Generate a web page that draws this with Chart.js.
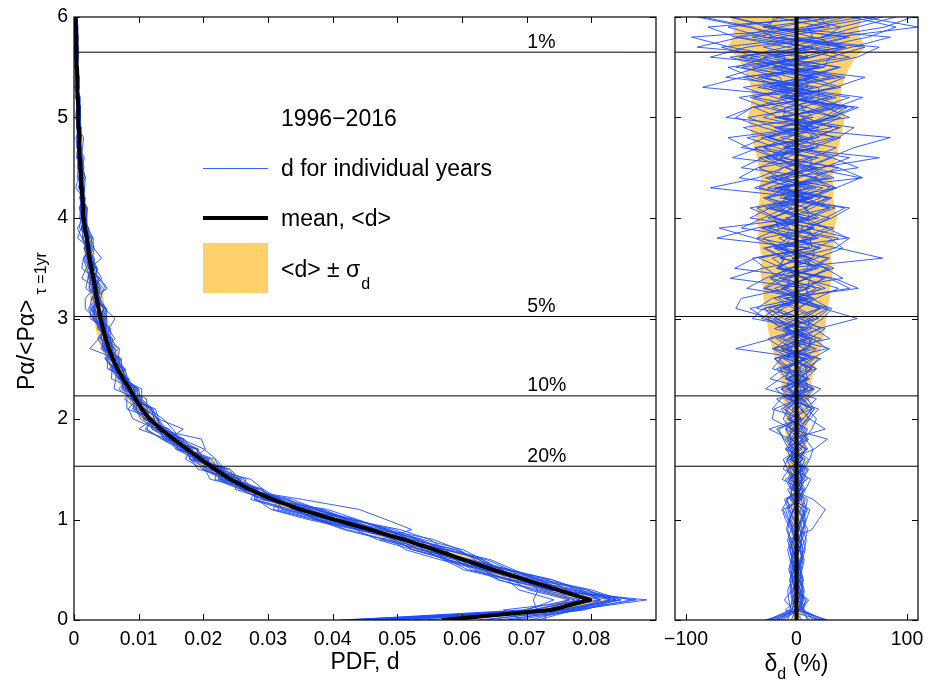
<!DOCTYPE html>
<html><head><meta charset="utf-8">
<script src="https://cdn.jsdelivr.net/npm/chart.js@4.4.1/dist/chart.umd.min.js"></script>
<style>
html,body{margin:0;padding:0;background:#fff;}
#wrap{position:relative;width:934px;height:683px;overflow:hidden;background:#fff;}
canvas{position:absolute;top:0;}
#c1{left:0;}
#c2{left:640px;}
</style></head><body>
<div id="wrap">
<canvas id="c1" width="668" height="683"></canvas>
<canvas id="c2" width="294" height="683"></canvas>
</div>
<script>
// ---------------- data ----------------
const yBins = [0,0.1,0.2,0.3,0.4,0.5,0.6,0.7,0.8,0.9,1.0,
  1.1,1.2,1.3,1.4,1.5,1.6,1.7,1.8,1.9,2.0,
  2.1,2.2,2.3,2.4,2.5,2.6,2.7,2.8,2.9,3.0,
  3.1,3.2,3.3,3.4,3.5,3.6,3.7,3.8,3.9,4.0,
  4.1,4.2,4.3,4.4,4.5,4.6,4.7,4.8,4.9,5.0,
  5.1,5.2,5.3,5.4,5.5,5.6,5.7,5.8,5.9,6.0];

const meanPDF = [0.0569,0.0738,0.0798,0.0748,0.0698,0.0648,0.0602,0.0557,0.0510,0.0458,0.0402,
  0.0350,0.0307,0.0271,0.0242,0.0218,0.0196,0.0175,0.0154,0.0134,0.0117,
  0.0105,0.0095,0.0086,0.0076,0.0067,0.0060,0.0054,0.0049,0.0045,0.0041,
  0.0038,0.0035,0.0033,0.0030,0.0027,0.0024,0.0022,0.0020,0.0017,0.0015,
  0.0014,0.0013,0.0012,0.0011,0.00100,0.00092,0.00086,0.00080,0.00075,0.00070,
  0.00065,0.00060,0.00055,0.00050,0.00046,0.00042,0.00038,0.00034,0.00030,0.00026];

// sigma_d relative to <d>, in percent
const sigmaPct = [4,4,5,4,4,4,4,5,5,5,5,
  5,6,6,7,8,8,8,9,10,10,
  11,12,13,14,16,19,22,24,26,27,
  28,30,30,32,33,31,33,35,34,37,
  35,33,34,32,34,36,38,40,42,44,
  42,40,41,44,48,54,62,58,56,60];

const years = ['1996','1997','1998','1999','2000','2001','2002','2003','2004','2005','2006',
  '2007','2008','2009','2010','2011','2012','2013','2014','2015','2016'];

// delta_d (%) for individual years
const delta1996 = [-24,-4,-2,1,3,4,2,-1,-5,-8,-6,
  -3,2,6,-4,7,12,15,8,-6,-4,
  -10,6,-14,4,12,20,-8,18,5,-12,
  -25,5,-30,-15,18,-4,35,48,10,30,
  -8,-30,12,-52,-35,-10,15,40,-20,35,
  10,-20,-48,15,-55,-25,20,65,90,50];
const delta1997 = [18,3,5,6,2,-2,-4,-6,-3,1,4,
  8,10,-3,-2,-8,-12,2,-4,3,10,
  16,-6,4,-8,-18,8,-20,-8,10,24,
  32,-4,4,-14,-28,-40,12,5,28,-10,
  30,8,-15,20,-50,-30,5,38,52,-12,
  -10,-42,20,-35,10,55,75,-20,-40,-85];
const delta1998 = [-12,1,-3,-5,-6,-2,3,7,9,5,2,
  -4,-9,3,-6,4,11,-2,10,2,-6,
  -14,4,-28,-15,0,14,30,-6,22,4,
  -18,10,-45,-28,-5,18,42,30,-16,-20,
  -42,8,-38,-12,20,75,-12,5,-30,-55,
  -40,-5,35,62,-15,-10,-60,-95,30,20];
const delta1999 = [26,5,11,-2,-4,-7,-5,0,4,6,8,
  5,-4,-5,-10,2,-8,-2,7,14,18,
  10,2,-8,10,-10,6,18,-12,-6,-22,
  -55,-50,-8,-6,14,30,-10,-6,-30,18,
  -25,8,36,58,12,14,-18,-45,15,5,
  35,60,-10,-15,-50,10,-30,25,80,105];
const delta2000 = [-20,-2,2,4,6,3,0,-4,-6,-9,-7,
  -2,4,8,13,-3,2,-7,-12,-16,4,
  0,10,22,-4,18,4,-12,-26,6,-20,
  2,18,38,6,34,12,-14,-38,-70,5,
  -15,12,30,15,-10,20,-50,-28,4,30,
  52,-10,-8,-40,-62,10,5,45,-30,40];
const delta2001 = [10,6,8,4,-1,-3,-6,-8,-4,2,5,
  9,6,-1,-7,5,-6,3,11,-4,12,
  4,-8,-19,8,2,14,-10,12,-10,-28,
  -42,4,-12,10,28,-15,22,-4,-24,20,
  6,28,-20,30,8,-20,-44,-62,10,-10,
  22,48,-15,40,0,-35,-68,15,10,58];
const delta2002 = [-26,-6,-4,0,3,5,7,4,-1,-5,-10,
  -13,-8,5,4,10,-5,-3,-11,-18,3,
  -4,8,16,-8,14,-4,-22,10,-20,2,
  20,-10,26,8,-12,-34,12,-36,-14,10,
  35,-12,36,14,-8,-28,20,12,40,-20,
  45,18,-12,-48,20,-50,-10,35,110,60];
const delta2003 = [22,-10,0,-3,-1,2,5,8,6,3,-2,
  -6,-9,4,2,8,-5,10,4,-4,-22,
  -20,2,-2,8,-6,-20,8,-15,6,18,
  30,14,-8,-24,10,12,-18,46,28,6,
  -18,10,-78,-35,-12,14,36,-15,32,8,
  -28,-52,10,8,40,-20,42,0,-45,-90];
const delta2004 = [-8,-5,-7,-8,-4,1,4,6,3,-1,-5,
  -8,2,3,8,-4,6,-2,-8,-3,6,
  14,-6,16,4,-10,-20,10,4,20,55,
  24,6,-14,10,-18,2,20,-6,-32,8,
  -28,-6,18,-10,56,32,8,-24,-48,15,
  4,36,-20,30,-12,-52,10,-40,20,72];
const delta2005 = [15,7,5,2,-3,-5,-2,3,8,10,6,
  1,-5,4,-13,-7,2,9,-6,-5,-12,
  -8,4,15,-10,-6,-16,12,12,26,-10,
  22,4,-20,10,-56,-38,14,12,34,-20,
  -4,-26,15,-20,6,30,52,85,-15,12,
  -22,10,-85,-50,25,30,62,-30,-18,-60];
const delta2006 = [-16,4,6,3,1,-2,-5,-3,2,6,9,
  12,-4,2,-4,-9,6,-10,-3,5,12,
  20,-8,14,0,-12,10,-55,-22,10,12,
  28,-12,56,34,-18,-10,-28,15,10,32,
  48,-10,4,-22,18,-58,-34,12,20,-15,
  30,0,-30,20,-34,12,50,85,-25,-20];
const delta2007 = [28,-1,2,5,6,4,1,-3,-7,14,20,
  26,15,-5,10,4,-3,-10,6,-10,-2,
  8,18,-8,-4,-15,12,6,22,-10,20,
  2,-16,10,-60,-30,15,16,38,-12,2,
  -22,15,-26,2,24,48,-10,10,-18,-44,
  10,-38,-4,34,-20,36,-8,-55,-80,25];
const delta2008 = [-28,2,4,1,-3,-6,-4,-1,2,5,8,
  6,-6,-4,-8,5,3,8,-5,26,12,
  4,-6,10,-24,-12,6,-10,30,16,-4,
  -20,14,8,26,-10,78,38,-10,-6,-26,
  10,-28,-8,14,38,-15,0,-26,20,-64,
  -40,20,20,44,-15,48,10,-30,-62,15];
const delta2009 = [5,-3,-11,-4,0,4,6,3,-2,-4,-8,
  -12,3,-1,6,11,-5,2,-4,-10,6,
  -22,-14,10,8,18,-8,-4,-18,10,-40,
  -30,12,8,24,-16,-2,-20,14,-26,-6,
  14,32,-12,34,12,-10,-30,20,8,28,
  46,-10,40,10,-24,-60,15,-55,-15,30];
const delta2010 = [-22,3,6,7,4,1,-2,-6,-8,-5,0,
  4,8,-4,-2,-6,6,-8,2,8,-6,
  6,-4,-14,10,8,22,-12,0,-14,-26,
  -12,6,22,-15,-8,-22,10,-72,-36,12,
  8,30,-18,26,4,-18,-38,15,6,32,
  56,-15,6,-28,20,-78,-45,25,40,78];
const delta2011 = [20,6,2,-1,-4,-3,0,2,5,3,-3,
  -7,-11,4,0,5,-6,16,28,-5,4,
  -6,-18,8,2,14,-10,16,4,-12,12,
  -36,-22,10,12,30,-15,2,-16,14,-22,
  -2,22,-20,60,38,-15,-6,-32,10,-30,
  -8,28,-25,20,-14,-42,30,22,55,90];
const delta2012 = [-5,0,-2,-4,-6,-4,-1,3,5,8,6,
  2,-3,-8,5,3,8,-5,-6,-25,4,
  -12,-2,10,-10,10,-2,-14,12,-12,6,
  22,-10,48,30,-15,-12,-30,18,4,26,
  44,-12,8,-14,-34,12,-30,-8,18,40,
  -10,32,2,-32,25,-30,12,48,-30,-15];
const delta2013 = [24,4,9,-2,-1,2,4,6,2,-3,-6,
  -3,2,7,-6,6,-1,-6,10,5,-8,
  14,6,-6,12,-22,-14,10,14,-10,16,
  -2,-20,12,-24,-6,14,-15,20,2,-18,
  -36,12,-34,-12,10,32,-12,34,8,-16,
  -38,15,-35,5,38,-20,44,15,-25,-60];
const delta2014 = [-14,-4,-1,2,5,3,-1,-4,-2,2,6,
  10,-3,8,2,-4,-9,5,-10,-2,6,
  14,4,-8,10,-8,8,-20,8,-8,-16,
  0,16,-14,42,26,8,-12,10,-50,-30,
  -10,14,36,-15,2,-22,15,-26,2,24,
  40,-15,35,-5,-40,10,-90,-50,8,45];
const delta2015 = [12,2,4,6,3,-1,-4,-6,-3,0,4,
  7,4,-2,6,-12,-8,-2,5,10,-8,
  -2,-10,8,-8,6,16,-14,-6,14,-32,
  -18,0,18,-12,20,4,-14,-30,16,8,
  30,-15,-6,-28,20,-28,-8,18,38,-18,
  34,8,-24,15,-22,14,45,-15,40,0];
const delta2016 = [-18,-1,-4,-6,-3,2,5,3,0,-3,-7,
  -10,4,0,5,2,-4,10,-6,2,9,
  16,10,-10,-6,4,-12,28,14,-2,-18,
  -30,10,-28,-8,12,28,-20,-8,16,-42,
  -24,0,24,-25,-12,-34,16,6,-20,48,
  26,-6,15,-64,-34,5,40,-25,25,-20];

const deltaSeries = [delta1996,delta1997,delta1998,delta1999,delta2000,delta2001,delta2002,
  delta2003,delta2004,delta2005,delta2006,delta2007,delta2008,delta2009,delta2010,delta2011,
  delta2012,delta2013,delta2014,delta2015,delta2016];

const percentileLevels = [5.65, 3.02, 2.23, 1.53];
const percentileLabels = ['1%', '5%', '10%', '20%'];

const pdfTicks = [0,0.01,0.02,0.03,0.04,0.05,0.06,0.07,0.08];
const deltaTicks = [-100,0,100];
const yTicks = [0,1,2,3,4,5,6];

// ---------------- styling ----------------
const F = '"Liberation Sans", Arial, Helvetica, sans-serif';
const yearColor = 'rgba(25,75,255,0.88)';
const bandColor = '#FFD16B';
const PDF_MIN = 0, PDF_MAX = 0.09, DEL_MIN = -110, DEL_MAX = 110;
const LABEL_X = 0.0701;

const decor = {
  id: 'decor',
  afterDatasetsDraw(chart, args, o) {
    const {ctx, chartArea: a, scales: {x, y}} = chart;
    ctx.save();
    ctx.strokeStyle = '#000';
    ctx.lineWidth = 1.2;
    ctx.strokeRect(a.left, a.top, a.right - a.left, a.bottom - a.top);
    const L = 6;
    ctx.lineWidth = 1;
    ctx.beginPath();
    o.xTicks.forEach(v => {
      const px = Math.round(x.getPixelForValue(v)) + 0.5;
      ctx.moveTo(px, a.bottom); ctx.lineTo(px, a.bottom - L);
      ctx.moveTo(px, a.top); ctx.lineTo(px, a.top + L);
    });
    yTicks.forEach(v => {
      const py = Math.round(y.getPixelForValue(v)) + 0.5;
      ctx.moveTo(a.left, py); ctx.lineTo(a.left + L, py);
      ctx.moveTo(a.right, py); ctx.lineTo(a.right - L, py);
    });
    ctx.stroke();
    ctx.fillStyle = '#000';
    if (o.left) {
      ctx.font = '19.5px ' + F;
      ctx.textAlign = 'left';
      ctx.textBaseline = 'alphabetic';
      percentileLevels.forEach((p, k) => {
        ctx.fillText(percentileLabels[k], x.getPixelForValue(LABEL_X), y.getPixelForValue(p) - 4.5);
      });
      const lx0 = a.left + 129, lx1 = a.left + 194, tx = a.left + 207;
      ctx.font = '23px ' + F;
      ctx.fillText('1996\u22122016', tx, 126);
      ctx.strokeStyle = yearColor; ctx.lineWidth = 1;
      ctx.beginPath(); ctx.moveTo(lx0, 168.5); ctx.lineTo(lx1, 168.5); ctx.stroke();
      ctx.fillText('d for individual years', tx, 176);
      ctx.strokeStyle = '#000'; ctx.lineWidth = 4;
      ctx.beginPath(); ctx.moveTo(lx0, 218); ctx.lineTo(lx1, 218); ctx.stroke();
      ctx.fillText('mean, <d>', tx, 226);
      ctx.fillStyle = bandColor;
      ctx.fillRect(lx0, 243, lx1 - lx0, 50);
      ctx.fillStyle = '#000';
      const s1 = '<d> \u00B1 \u03C3';
      ctx.fillText(s1, tx, 277);
      const w1 = ctx.measureText(s1).width;
      ctx.font = '16px ' + F;
      ctx.fillText('d', tx + w1 + 1, 289);
      ctx.save();
      ctx.translate(33.5, 390);
      ctx.rotate(-Math.PI / 2);
      ctx.font = '23px ' + F;
      ctx.fillText('P\u03B1/<P\u03B1>', 0, 0);
      const wm = ctx.measureText('P\u03B1/<P\u03B1>').width;
      ctx.font = '16px ' + F;
      ctx.fillText('\u03C4 =1yr', wm + 5, 12.5);
      ctx.restore();
    } else {
      const cx = (a.left + a.right) / 2;
      ctx.textAlign = 'left';
      ctx.textBaseline = 'alphabetic';
      ctx.font = '23px ' + F;
      const wa = ctx.measureText('\u03B4').width;
      const wc = ctx.measureText(' (%)').width;
      ctx.font = '16px ' + F;
      const wb = ctx.measureText('d').width;
      const sx = cx - (wa + wb + wc) / 2;
      ctx.font = '23px ' + F;
      ctx.fillText('\u03B4', sx, 671);
      ctx.font = '16px ' + F;
      ctx.fillText('d', sx + wa, 679);
      ctx.font = '23px ' + F;
      ctx.fillText(' (%)', sx + wa + wb, 671);
    }
    ctx.restore();
  }
};

function pts(xs) { return yBins.map((yv, i) => ({x: xs[i], y: yv})); }

const leftSets = [];
leftSets.push({label: 'mean', data: pts(meanPDF), borderColor: '#000', borderWidth: 4, borderJoinStyle: 'round', order: 0});
percentileLevels.forEach((p, k) => leftSets.push({label: percentileLabels[k], data: [{x: PDF_MIN, y: p}, {x: PDF_MAX, y: p}], borderColor: '#000', borderWidth: 1, order: 1}));
deltaSeries.forEach((arr, k) => leftSets.push({label: years[k], data: pts(meanPDF.map((m, i) => m * (1 + arr[i] / 100))), borderColor: yearColor, borderWidth: 1, order: 2}));
leftSets.push({label: 'upper', data: pts(meanPDF.map((m, i) => m * (1 + sigmaPct[i] / 100))), borderColor: 'rgba(0,0,0,0)', borderWidth: 1, backgroundColor: bandColor, fill: '+1', order: 3});
leftSets.push({label: 'lower', data: pts(meanPDF.map((m, i) => m * (1 - sigmaPct[i] / 100))), borderColor: 'rgba(0,0,0,0)', borderWidth: 1, fill: false, order: 3});

const rightSets = [];
rightSets.push({label: 'mean', data: [{x: 0, y: 0}, {x: 0, y: 6}], borderColor: '#000', borderWidth: 4, order: 0});
percentileLevels.forEach((p, k) => rightSets.push({label: percentileLabels[k], data: [{x: DEL_MIN, y: p}, {x: DEL_MAX, y: p}], borderColor: '#000', borderWidth: 1, order: 1}));
deltaSeries.forEach((arr, k) => rightSets.push({label: years[k], data: pts(arr), borderColor: yearColor, borderWidth: 1, order: 2}));
rightSets.push({label: 'upper', data: pts(sigmaPct), borderColor: 'rgba(0,0,0,0)', borderWidth: 1, backgroundColor: bandColor, fill: '+1', order: 3});
rightSets.push({label: 'lower', data: pts(sigmaPct.map(s => -s)), borderColor: 'rgba(0,0,0,0)', borderWidth: 1, fill: false, order: 3});

function noPad(s) { s.paddingLeft = 0; s.paddingRight = 0; s.paddingTop = 0; s.paddingBottom = 0; }
const tickFont = {family: F, size: 19.5};

function baseOptions() {
  return {
    responsive: false,
    animation: false,
    events: [],
    indexAxis: 'y',
    elements: {point: {radius: 0, hitRadius: 0, hoverRadius: 0}, line: {tension: 0, fill: false}},
    plugins: {legend: {display: false}, tooltip: {enabled: false}}
  };
}

const o1 = baseOptions();
o1.layout = {padding: {left: 0, right: 12, top: 17, bottom: 0}};
o1.plugins.decor = {left: true, xTicks: pdfTicks};
o1.scales = {
  x: {type: 'linear', position: 'bottom', min: PDF_MIN, max: PDF_MAX,
    afterBuildTicks: s => { s.ticks = pdfTicks.map(v => ({value: v})); },
    ticks: {font: tickFont, color: '#000', padding: 8, maxRotation: 0, autoSkip: false,
      callback: v => v === 0 ? '0' : v.toFixed(2)},
    grid: {display: false, drawTicks: false}, border: {display: false},
    title: {display: true, text: 'PDF, d', color: '#000', font: {family: F, size: 23}, padding: {top: 0, bottom: 7}},
    afterFit: s => { s.height = 63; noPad(s); }},
  y: {type: 'linear', position: 'left', min: 0, max: 6,
    afterBuildTicks: s => { s.ticks = yTicks.map(v => ({value: v})); },
    ticks: {font: tickFont, color: '#000', padding: 6, autoSkip: false, callback: v => String(v)},
    grid: {display: false, drawTicks: false}, border: {display: false},
    afterFit: s => { s.width = 74; noPad(s); }}
};
new Chart(document.getElementById('c1'), {type: 'line', data: {datasets: leftSets}, options: o1, plugins: [decor]});

const o2 = baseOptions();
o2.layout = {padding: {left: 35, right: 16, top: 17, bottom: 0}};
o2.plugins.decor = {left: false, xTicks: deltaTicks};
o2.scales = {
  x: {type: 'linear', position: 'bottom', min: DEL_MIN, max: DEL_MAX,
    afterBuildTicks: s => { s.ticks = deltaTicks.map(v => ({value: v})); },
    ticks: {font: tickFont, color: '#000', padding: 8, maxRotation: 0, autoSkip: false,
      callback: v => v < 0 ? '\u2212' + Math.abs(v) : String(v)},
    grid: {display: false, drawTicks: false}, border: {display: false},
    afterFit: s => { s.height = 63; noPad(s); }},
  y: {type: 'linear', position: 'left', display: false, min: 0, max: 6,
    afterFit: s => { noPad(s); }}
};
new Chart(document.getElementById('c2'), {type: 'line', data: {datasets: rightSets}, options: o2, plugins: [decor]});
</script>
</body></html>
